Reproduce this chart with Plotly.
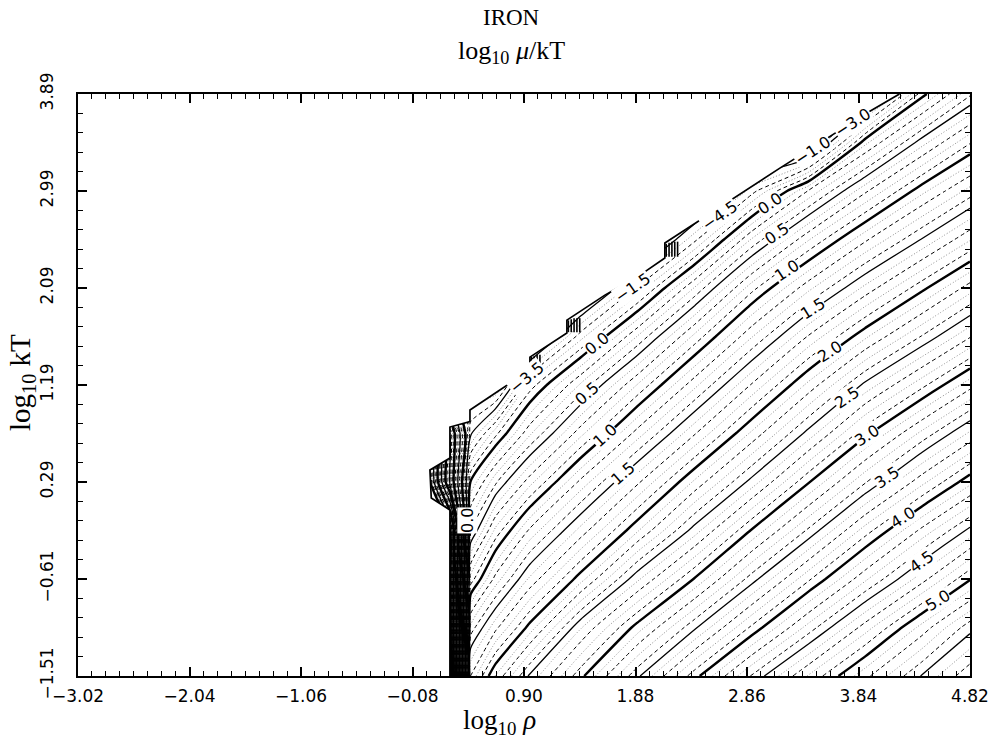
import plotly.graph_objects as go

# ---------------- text ----------------
title_main = "IRON"
title_quantity = "log<sub>10</sub> <i>μ</i>/kT"
x_title = "log<sub>10</sub> <i>ρ</i>"
y_title = "log<sub>10</sub> kT"

# ---------------- axes ----------------
x_ticks = [-3.02, -2.04, -1.06, -0.08, 0.90, 1.88, 2.86, 3.84, 4.82]
x_ticklabels = ["−3.02", "−2.04", "−1.06", "−0.08", "0.90", "1.88", "2.86", "3.84", "4.82"]
y_ticks = [-1.51, -0.61, 0.29, 1.19, 2.09, 2.99, 3.89]
y_ticklabels = ["−1.51", "−0.61", "0.29", "1.19", "2.09", "2.99", "3.89"]

# ---------------- data: log10 mu/kT on a coarse grid ----------------
grid_log_rho = [0.073, 0.249, 0.43, 0.65, 0.95, 1.4, 1.9, 2.4, 2.9, 3.4, 3.9, 4.4, 4.82]
grid_log_kT = [-1.51, -1.06, -0.61, -0.16, 0.29, 0.74, 1.19, 1.64, 2.09, 2.54, 2.99, 3.44, 3.89]
log_mu_kT = [
    [-5.05, -5.05, 1.71, 2.11, 2.52, 2.97, 3.48, 3.96, 4.41, 4.81, 5.17, 5.51, 5.78],
    [-5.05, -5.05, 1.34, 1.67, 2.04, 2.59, 3.05, 3.48, 3.92, 4.34, 4.75, 5.14, 5.46],
    [-5.05, -5.05, 0.84, 1.24, 1.62, 2.06, 2.58, 3.01, 3.45, 3.88, 4.28, 4.66, 4.99],
    [-5.05, -5.05, 0.38, 0.83, 1.22, 1.64, 2.09, 2.55, 3.01, 3.42, 3.85, 4.23, 4.53],
    [-5.05, -2.45, 0.01, 0.38, 0.76, 1.23, 1.68, 2.12, 2.54, 2.99, 3.39, 3.77, 4.07],
    [-5.05, -2.45, -0.52, -0.13, 0.28, 0.77, 1.25, 1.69, 2.12, 2.54, 2.97, 3.33, 3.62],
    [-0.85, -0.85, -0.85, -0.85, -0.16, 0.32, 0.81, 1.27, 1.71, 2.13, 2.53, 2.87, 3.16],
    [-0.85, -0.85, -0.85, -0.85, -0.85, -0.24, 0.31, 0.83, 1.29, 1.71, 2.08, 2.41, 2.69],
    [-0.85, -0.85, -0.85, -0.85, -0.85, -0.85, -0.28, 0.31, 0.86, 1.27, 1.63, 1.97, 2.25],
    [-0.85, -0.85, -0.85, -0.85, -0.85, -0.85, -0.85, -0.33, 0.31, 0.79, 1.18, 1.51, 1.79],
    [-0.85, -0.85, -0.85, -0.85, -0.85, -0.85, -0.85, -0.85, -0.35, 0.21, 0.68, 1.07, 1.34],
    [-0.85, -0.85, -0.85, -0.85, -0.85, -0.85, -0.85, -0.85, -0.85, -0.85, 0.07, 0.56, 0.89],
    [-0.85, -0.85, -0.85, -0.85, -0.85, -0.85, -0.85, -0.85, -0.85, -0.85, -0.85, -0.04, 0.38],
]

# edge of the tabulated region (stepped)
edge_log_rho = [0.249, 0.249, 0.085, 0.073, 0.249, 0.249, 0.425, 0.425, 0.688, 0.952, 0.952,
                1.277, 1.277, 1.611, 1.945, 2.138, 2.138, 3.149, 3.94, 4.177, 4.2]
edge_log_kT = [-1.51, 0.03, 0.141, 0.401, 0.512, 0.80, 0.85, 0.958, 1.143, 1.329, 1.449,
               1.672, 1.792, 2.024, 2.228, 2.368, 2.507, 3.202, 3.731, 3.87, 3.89]

# short vertical hatch strokes in the corners of the steps
hatch_log_rho = [0.965, 0.99, 1.015, 1.04, 1.29, 1.315, 1.34, 1.365, 1.39,
                 2.15, 2.175, 2.2, 2.225, 2.25]
hatch_low = [1.34, 1.34, 1.34, 1.34, 1.68, 1.68, 1.68, 1.68, 1.68,
             2.38, 2.38, 2.38, 2.38, 2.38]
hatch_high = [1.45, 1.46, 1.47, 1.47, 1.79, 1.80, 1.81, 1.81, 1.81,
              2.50, 2.51, 2.52, 2.52, 2.52]

# contour labels as printed on the chart
label_text = ["0.0", "0.0", "0.0", "0.5", "0.5", "1.0", "1.0", "1.5", "1.5", "2.0", "2.5",
              "3.0", "3.5", "4.0", "4.5", "5.0", "−3.5", "−1.5", "−4.5", "−1.0", "−3.0"]
label_log_rho = [0.398, 1.541, 3.061, 1.453, 3.122, 1.611, 3.21, 1.769, 3.439, 3.588, 3.737,
                 3.913, 4.089, 4.23, 4.397, 4.537, 0.925, 1.857, 2.621, 3.439, 3.79]
label_log_kT = [-0.063, 1.579, 2.878, 1.115, 2.599, 0.726, 2.256, 0.373, 1.904, 1.505, 1.078,
                0.726, 0.336, -0.035, -0.452, -0.805, 1.264, 2.098, 2.766, 3.37, 3.63]
label_angle = [-90, -39, -35, -41, -34, -42, -33, -41, -32, -33, -34,
               -33, -34, -32, -36, -32, -40, -35, -35, -33, -33]

X0, X1 = -3.02, 4.82
Y0, Y1 = -1.51, 3.89

fig = go.Figure()

# contour families: (start, size, color, width, dash)
families = [
    (-4.9, 0.5, "#8c8c8c", 1.0, "1px,2px"),
    (-4.7, 0.5, "#8c8c8c", 1.0, "1px,2px"),
    (-4.8, 0.5, "black", 1.0, "4px,3px"),
    (-4.6, 0.5, "black", 1.0, "4px,3px"),
    (-4.5, 1.0, "black", 1.3, "solid"),
    (-5.0, 1.0, "black", 2.4, "solid"),
]
for start, size, color, width, dash in families:
    fig.add_trace(go.Contour(
        x=grid_log_rho, y=grid_log_kT, z=log_mu_kT,
        contours=dict(coloring="none", start=start, end=6.0, size=size, showlabels=False),
        line=dict(color=color, width=width, dash=dash, smoothing=0.6),
        showscale=False, hoverinfo="skip",
    ))

# blank out the region outside the table
mask_x = [X0] + edge_log_rho + [X0, X0]
mask_y = [Y0] + edge_log_kT + [Y1, Y0]
fig.add_trace(go.Scatter(x=mask_x, y=mask_y, fill="toself", fillcolor="white",
                         mode="lines", line=dict(width=0, color="white"),
                         hoverinfo="skip", showlegend=False))
fig.add_trace(go.Scatter(x=edge_log_rho, y=edge_log_kT, mode="lines",
                         line=dict(color="black", width=1.7),
                         hoverinfo="skip", showlegend=False))

hx, hy = [], []
for xv, lo, hi in zip(hatch_log_rho, hatch_low, hatch_high):
    hx += [xv, xv, None]
    hy += [lo, hi, None]
fig.add_trace(go.Scatter(x=hx, y=hy, mode="lines", line=dict(color="black", width=1.6),
                         hoverinfo="skip", showlegend=False))

for t, lx, ly, ang in zip(label_text, label_log_rho, label_log_kT, label_angle):
    fig.add_annotation(x=lx, y=ly, xref="x", yref="y", text=t, showarrow=False,
                       textangle=ang, bgcolor="white", borderpad=0,
                       xanchor="center", yanchor="middle",
                       font=dict(family="DejaVu Sans", size=16, color="black"))

serif = "Liberation Serif"
fig.add_annotation(x=0.486, y=1.1306, xref="paper", yref="paper", text=title_main,
                   showarrow=False, xanchor="center", yanchor="middle",
                   font=dict(family=serif, size=23, color="black"))
fig.add_annotation(x=0.486, y=1.072, xref="paper", yref="paper", text=title_quantity,
                   showarrow=False, xanchor="center", yanchor="middle",
                   font=dict(family=serif, size=26, color="black"))
fig.add_annotation(x=0.473, y=-0.0785, xref="paper", yref="paper", text=x_title,
                   showarrow=False, xanchor="center", yanchor="middle",
                   font=dict(family=serif, size=27, color="black"))
fig.add_annotation(x=-0.0628, y=0.505, xref="paper", yref="paper", text=y_title,
                   textangle=-90, showarrow=False, xanchor="center", yanchor="middle",
                   font=dict(family=serif, size=29, color="black"))

axis_common = dict(showgrid=False, zeroline=False, showline=True, linecolor="black",
                   linewidth=2, mirror="ticks", ticks="inside", ticklen=9, tickwidth=1.5,
                   tickcolor="black",
                   tickfont=dict(family="DejaVu Sans", size=17, color="black"))
fig.update_xaxes(range=[X0, X1], tickmode="array", tickvals=x_ticks, ticktext=x_ticklabels,
                 minor=dict(tick0=X0, dtick=0.1225, ticks="inside", ticklen=5,
                            tickwidth=1.2, tickcolor="black"),
                 ticklabelstandoff=4, **axis_common)
fig.update_yaxes(range=[Y0, Y1], tickmode="array", tickvals=y_ticks, ticktext=y_ticklabels,
                 tickangle=-90,
                 minor=dict(tick0=Y0, dtick=0.18, ticks="inside", ticklen=5,
                            tickwidth=1.2, tickcolor="black"),
                 ticklabelstandoff=16, **axis_common)

fig.update_layout(width=1003, height=746, margin=dict(l=78, r=33, t=94, b=70),
                  plot_bgcolor="white", paper_bgcolor="white", showlegend=False)

fig.write_html("out.html")
